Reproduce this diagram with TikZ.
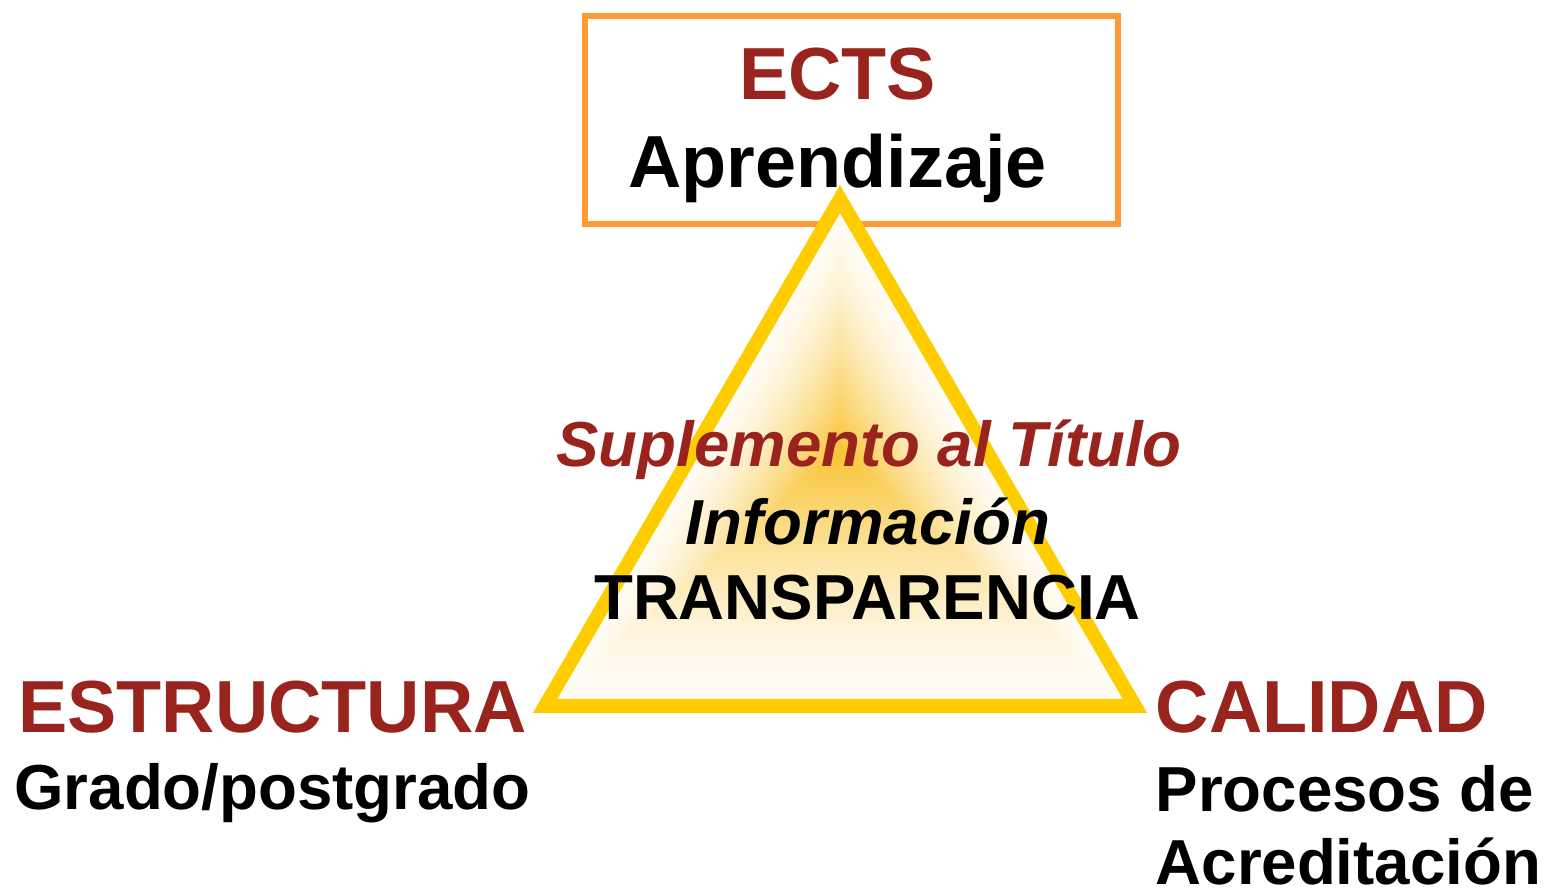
\documentclass[tikz,border=0pt]{standalone}
\usepackage{fontspec}
\setmainfont{Liberation Sans}
\usepackage{tikz}
\usetikzlibrary{
	calc,											% coordinate arithmetic
	positioning,									% relative placement
}

\definecolor{titlered}{HTML}{99231D}
\definecolor{boxorange}{HTML}{FF9933}
\definecolor{trigold}{HTML}{FFCC00}
\definecolor{coreorange}{HTML}{F8C331}
\definecolor{cream}{HTML}{FFFDF8}

\begin{document}
\begin{tikzpicture}[
		bigword/.style={font=\fontsize{21}{25}\selectfont\bfseries, inner sep=0pt, anchor=base},
		smallword/.style={font=\fontsize{18.1}{22}\selectfont\bfseries, inner sep=0pt, anchor=base},
		slantword/.style={smallword, font=\fontsize{18.1}{22}\selectfont\bfseries\itshape},
	]
		\useasboundingbox (0,0) rectangle (15.47,-8.90);
		% ECTS frame
		\node [draw=boxorange, line width=0.06cm, minimum width=5.33cm, minimum height=2.08cm] (ectsbox) at (8.515,-1.20) {};
		% triangle corners and centre of the shading
		\coordinate (apex) at (8.40,-1.99);
		\coordinate (left) at (5.45,-7.06);
		\coordinate (right) at (11.35,-7.06);
		\coordinate (core) at (8.40,-4.52);
		\foreach \k in {0,...,49} {
			\pgfmathsetmacro\s{1-\k/50}
			\pgfmathsetmacro\pct{2*\k*sqrt(\k/50)}
			\fill [coreorange!\pct!cream] ($(core)!\s!(apex)$) -- ($(core)!\s!(left)$) -- ($(core)!\s!(right)$) -- cycle;
		}
		\draw [trigold, line width=0.14cm, line join=miter] (apex) -- (left) -- (right) -- cycle;
		% texts
		\node [bigword, titlered] (ects) at (8.375,-1.00) {ECTS};
		\node [bigword] (aprendizaje) at (8.375,-1.88) {Aprendizaje};
		\node [slantword, titlered] (suplemento) at (8.69,-4.67) {Suplemento al Título};
		\node [slantword] (informacion) at (8.68,-5.45) {Información};
		\node [smallword] (transparencia) at (8.675,-6.20) {TRANSPARENCIA};
		\node [bigword, titlered] (estructura) at (2.725,-7.33) {ESTRUCTURA};
		\node [smallword] (grado) at (2.725,-8.10) {Grado/postgrado};
		\node [bigword, titlered, anchor=base west] (calidad) at (11.55,-7.33) {CALIDAD};
		\node [smallword, anchor=base west] (procesos) at (11.55,-8.12) {Procesos de};
		\node [smallword, anchor=base west] (acreditacion) at (11.55,-8.84) {Acreditación};
	\end{tikzpicture}
\end{document}
